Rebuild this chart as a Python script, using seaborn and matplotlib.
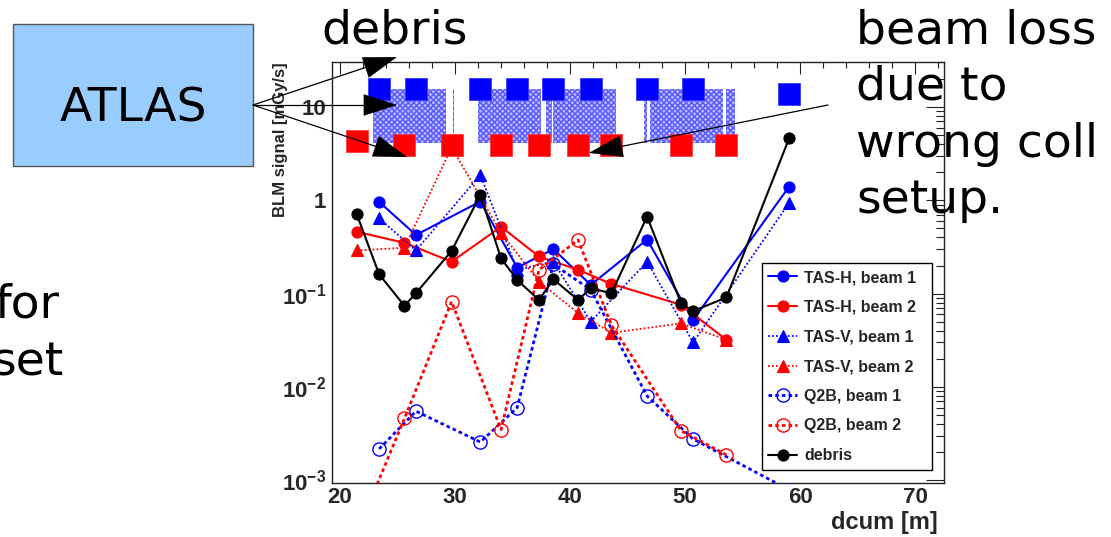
import matplotlib
matplotlib.use("Agg")
import matplotlib.pyplot as plt
import seaborn as sns
from matplotlib.patches import Rectangle, Polygon
from matplotlib.lines import Line2D
from matplotlib.font_manager import FontProperties
from matplotlib.ticker import FixedLocator, FixedFormatter, MultipleLocator, LogLocator, NullFormatter

# ---------------- data ----------------
pos_beam1 = [23.4, 26.6, 32.2, 35.4, 38.55, 41.8, 46.7, 50.7, 59.05]
pos_beam2 = [21.45, 25.6, 29.7, 34.0, 37.3, 40.7, 43.6, 49.65, 53.6]
pos_debris = [21.45, 23.4, 25.6, 26.6, 29.7, 32.2, 34.0, 35.4, 37.3, 38.55,
              40.7, 41.8, 43.6, 46.7, 49.65, 50.7, 53.6, 59.05]

tas_h_b1 = [0.96, 0.425, 0.97, 0.19, 0.30, 0.124, 0.38, 0.052, 1.40]
tas_h_b2 = [0.46, 0.35, 0.22, 0.52, 0.25, 0.18, 0.127, 0.076, 0.032]
tas_v_b1 = [0.64, 0.29, 1.87, 0.18, 0.22, 0.050, 0.22, 0.030, 0.94]
tas_v_b2 = [0.29, 0.31, 3.7, 0.45, 0.134, 0.062, 0.038, 0.048, 0.032]
q2b_b1 = [0.00217, 0.0055, 0.00257, 0.0060, 0.206, 0.11, 0.0080, 0.00277, 0.00079]
q2b_b2 = [0.00027, 0.0046, 0.082, 0.0035, 0.18, 0.376, 0.046, 0.0034, 0.00187]
debris = [0.71, 0.161, 0.074, 0.101, 0.287, 1.14, 0.239, 0.140, 0.0855, 0.1425,
          0.0855, 0.114, 0.101, 0.668, 0.079, 0.065, 0.091, 4.6]

squares_b1 = [15.6, 15.6, 15.6, 15.6, 15.6, 15.6, 15.6, 15.6, 13.9]
squares_b2 = [4.34, 3.92, 3.92, 3.92, 3.92, 3.92, 3.92, 3.92, 3.92]

block_left = [22.90, 29.80, 31.97, 37.95, 38.50, 46.46, 46.96, 53.57]
block_right = [29.22, 29.93, 37.45, 38.40, 43.98, 46.67, 53.28, 54.35]
block_low = 4.08
block_high = 15.5

x_ticks = [20, 30, 40, 50, 60, 70]
y_ticks = [1e-3, 1e-2, 1e-1, 1, 10]
y_tick_labels = [r"$10^{-3}$", r"$10^{-2}$", r"$10^{-1}$", "1", "10"]

series_labels = ["TAS-H, beam 1", "TAS-H, beam 2", "TAS-V, beam 1", "TAS-V, beam 2",
                 "Q2B, beam 1", "Q2B, beam 2", "debris"]

# ---------------- style ----------------
sns.set_style("white")
plt.rcParams["font.family"] = ["DejaVu Sans"]
plt.rcParams["mathtext.fontset"] = "custom"
plt.rcParams["mathtext.rm"] = "Liberation Sans:bold"
plt.rcParams["mathtext.it"] = "Liberation Sans:bold"
plt.rcParams["mathtext.bf"] = "Liberation Sans:bold"
plt.rcParams["mathtext.default"] = "rm"

W, H = 1111, 537
fig = plt.figure(figsize=(W / 100, H / 100), dpi=100)
fig.patch.set_facecolor("white")
ax = fig.add_axes([332 / W, 1 - 483 / H, 612 / W, 421 / H])
ax.set_facecolor("white")

BLUE = "#0000ff"
RED = "#ff0000"
BLACK = "#000000"

# hatched blocks
ax.bar(block_left, [block_high - block_low] * len(block_left),
       width=[r - l for l, r in zip(block_left, block_right)],
       bottom=block_low, align="edge", color="#b9b9ff", edgecolor="#5a5aff",
       hatch="xxxxxx", linewidth=0, zorder=1)
plt.rcParams["hatch.linewidth"] = 0.8

# squares
sns.scatterplot(x=pos_beam1, y=squares_b1, marker="s", s=235, color=BLUE,
                edgecolor="#3a3aff", linewidth=0.6, ax=ax, legend=False, zorder=3)
sns.scatterplot(x=pos_beam2, y=squares_b2, marker="s", s=235, color=RED,
                edgecolor="#ff3a3a", linewidth=0.6, ax=ax, legend=False, zorder=3)

dotted = (0, (1.0, 1.2))
dashed = (0, (1.3, 1.1))

def series(x, y, color, ls, lw, marker, ms, filled, label, z):
    sns.lineplot(x=x, y=y, ax=ax, color=color, linestyle=ls, linewidth=lw,
                 marker=marker, markersize=ms,
                 markerfacecolor=(color if filled else "none"),
                 markeredgecolor=color, markeredgewidth=(0.8 if filled else 1.0),
                 sort=False, estimator=None, label=label, zorder=z)

series(pos_beam1, tas_h_b1, BLUE, "-", 1.5, "o", 8, True, series_labels[0], 4)
series(pos_beam2, tas_h_b2, RED, "-", 1.5, "o", 8, True, series_labels[1], 4)
series(pos_beam1, tas_v_b1, BLUE, dotted, 1.3, "^", 8, True, series_labels[2], 4)
series(pos_beam2, tas_v_b2, RED, dotted, 1.3, "^", 8, True, series_labels[3], 4)
series(pos_beam1, q2b_b1, BLUE, dashed, 2.0, "o", 9.5, False, series_labels[4], 4)
series(pos_beam2, q2b_b2, RED, dashed, 2.0, "o", 9.5, False, series_labels[5], 4)
series(pos_debris, debris, BLACK, "-", 1.5, "o", 8, True, series_labels[6], 5)

ax.set_yscale("log")
ax.set_xlim(19.3, 72.52)
ax.set_ylim(9.36e-4, 30.3)

tick_font = FontProperties(family="Liberation Sans", weight="bold", size=16)
ax.xaxis.set_major_locator(FixedLocator(x_ticks))
ax.xaxis.set_major_formatter(FixedFormatter([str(t) for t in x_ticks]))
ax.xaxis.set_minor_locator(MultipleLocator(2))
ax.yaxis.set_major_locator(FixedLocator(y_ticks))
ax.yaxis.set_major_formatter(FixedFormatter(y_tick_labels))
ax.yaxis.set_minor_locator(LogLocator(base=10, subs=range(2, 10), numticks=20))
ax.yaxis.set_minor_formatter(NullFormatter())
for lab in ax.get_xticklabels() + ax.get_yticklabels():
    lab.set_fontproperties(tick_font)

ax.tick_params(which="both", direction="in", top=True, right=True,
               color="#222222", width=0.8)
ax.tick_params(axis="x", which="major", length=8.5, pad=3)
ax.tick_params(axis="x", which="minor", length=4.3)
ax.tick_params(axis="y", which="major", length=13, pad=4)
ax.tick_params(axis="y", which="minor", length=6)
for sp in ax.spines.values():
    sp.set_color("#222222")
    sp.set_linewidth(1.0)
ax.set_xlabel("")
ax.set_ylabel("")

bold = dict(family="Liberation Sans", weight="bold")
fig.text(938 / W, 1 - 522 / H, "dcum [m]", ha="right", va="center", fontsize=17, **bold)
fig.text(281 / W, 1 - 62 / H, "BLM signal [mGy/s]", rotation=90, ha="center",
         va="top", fontsize=12, **bold)

# legend
handles, labels = ax.get_legend_handles_labels()
leg = ax.legend(handles, labels, loc="upper left",
                bbox_to_anchor=(761.7 / W, 1 - 470 / H, 170 / W, 206.7 / H),
                bbox_transform=fig.transFigure, mode="expand", borderaxespad=0,
                frameon=True, fancybox=False, framealpha=1, edgecolor="black",
                borderpad=0.42, labelspacing=0.92, handlelength=1.8,
                handletextpad=0.45,
                prop=FontProperties(family="Liberation Sans", weight="bold", size=11.5))
leg.get_frame().set_linewidth(1.0)
leg.set_zorder(10)

# ---------------- slide annotations ----------------
def P(x, y):
    return (x / W, 1 - y / H)

fig.add_artist(Rectangle(P(13, 166), 240 / W, 142 / H, transform=fig.transFigure,
                         facecolor="#99ccff", edgecolor="#555555", linewidth=1.0, zorder=1))
big = dict(family="DejaVu Sans", fontsize=34, color="black")
fig.text(*P(133, 122), "ATLAS", ha="center", va="baseline", **big)
fig.text(*P(321, 44), "debris", ha="left", va="baseline", **big)
for i, line in enumerate(["beam loss", "due to", "wrong coll", "setup."]):
    fig.text(*P(856, 43.3 + 56.7 * i), line, ha="left", va="baseline", **big)
fig.text(*P(60, 318), "for", ha="right", va="baseline", **big)
fig.text(*P(64, 375), "set", ha="right", va="baseline", **big)

def arrow(x0, y0, x1, y1, hl=32.0, hw=10.3):
    dx, dy = x1 - x0, y1 - y0
    L = (dx * dx + dy * dy) ** 0.5
    ux, uy = dx / L, dy / L
    bx, by = x1 - hl * ux, y1 - hl * uy
    px, py = -uy, ux
    fig.add_artist(Line2D([x0 / W, bx / W], [1 - y0 / H, 1 - by / H],
                          transform=fig.transFigure, color="black", lw=0.9, zorder=20))
    pts = [P(x1, y1), P(bx + hw * px, by + hw * py), P(bx - hw * px, by - hw * py)]
    fig.add_artist(Polygon(pts, closed=True, transform=fig.transFigure,
                           facecolor="black", edgecolor="black", lw=0.5, zorder=21))

arrow(253, 105, 396, 57.3)
arrow(253, 105, 396, 105)
arrow(253, 105, 406, 156.6)
arrow(828, 105, 590, 152.7)

fig.savefig("out.png", dpi=100)
